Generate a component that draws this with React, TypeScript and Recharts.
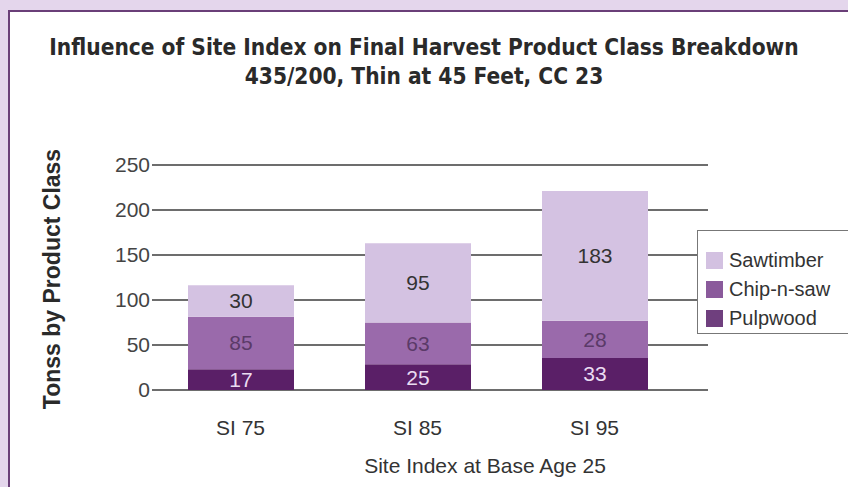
import { BarChart, Bar, XAxis, YAxis, CartesianGrid, LabelList } from 'recharts'

// segment heights as drawn in the figure (tons)
const categories = ['SI 75', 'SI 85', 'SI 95']
const pulpwood = [23, 28.5, 35.5]
const chipNSaw = [58.5, 46.5, 41.5]
const sawtimber = [35, 88, 144]

// numbers printed inside the segments
const pulpLabels = ['17', '25', '33']
const chipLabels = ['85', '63', '28']
const sawLabels = ['30', '95', '183']

const yTicks = [0, 50, 100, 150, 200, 250]

const PULP = '#5a1f67'
const CHIP = '#9a6aab'
const SAW = '#d4c2e2'

const data = categories.map((c, i) => ({
  name: c,
  pulp: pulpwood[i],
  chip: chipNSaw[i],
  saw: sawtimber[i],
  pulpLabel: pulpLabels[i],
  chipLabel: chipLabels[i],
  sawLabel: sawLabels[i],
}))

const FONT = '"Liberation Sans", Arial, sans-serif'
const labelFont = { fontSize: 21, fontFamily: FONT }

const legendItems = [
  { name: 'Sawtimber', color: '#d3c1e1' },
  { name: 'Chip-n-saw', color: '#8a5a9b' },
  { name: 'Pulpwood', color: '#6f3f7e' },
]

export default function App() {
  return (
    <div style={{ position: 'fixed', left: 0, top: 0, width: 848, height: 487, background: '#e4d6ec', overflow: 'hidden' }}>
      <div
        style={{
          position: 'absolute', left: 8, top: 10, right: 0, bottom: 0, background: '#fff',
          borderLeft: '2px solid #6a3f78', borderTop: '2px solid #6a3f78',
        }}
      />
      <div
        style={{
          position: 'absolute', left: 0, width: 848, top: 33, textAlign: 'center', fontWeight: 'bold',
          fontFamily: '"Liberation Sans Narrow", "DejaVu Sans Condensed", sans-serif', fontSize: 22.5,
          lineHeight: '29px', color: '#2a2a2a',
        }}
      >
        <div>Influence of Site Index on Final Harvest Product Class Breakdown</div>
        <div>435/200, Thin at 45 Feet, CC 23</div>
      </div>
      <div
        style={{
          position: 'absolute', left: 52, top: 279, transform: 'translate(-50%, -50%) rotate(-90deg)',
          whiteSpace: 'nowrap', fontFamily: FONT, fontWeight: 'bold', fontSize: 23, color: '#2a2a2a',
        }}
      >
        Tonss by Product Class
      </div>
      <div style={{ position: 'absolute', left: 0, top: 0 }}>
        <BarChart width={848} height={487} data={data} margin={{ top: 165, right: 140, bottom: 67, left: 92 }} barSize={106}>
          <CartesianGrid vertical={false} stroke="#3c3c3c" strokeWidth={1.3} />
          <XAxis
            dataKey="name" axisLine={false} tickLine={false} tickSize={0} tickMargin={30} height={30}
            padding={{ left: 0, right: 25 }}
            tick={{ fill: '#333', fontSize: 21, fontFamily: FONT }}
          />
          <YAxis
            domain={[0, 250]} ticks={yTicks} axisLine={false} tickLine={false} tickSize={0} tickMargin={2} width={60}
            tick={{ fill: '#444', fontSize: 21, fontFamily: FONT }}
          />
          <Bar dataKey="pulp" stackId="a" fill={PULP} isAnimationActive={false}>
            <LabelList dataKey="pulpLabel" position="center" fill="#eadcf2" style={labelFont} />
          </Bar>
          <Bar dataKey="chip" stackId="a" fill={CHIP} isAnimationActive={false}>
            <LabelList dataKey="chipLabel" position="center" fill="#5b3a68" style={labelFont} />
          </Bar>
          <Bar dataKey="saw" stackId="a" fill={SAW} isAnimationActive={false}>
            <LabelList dataKey="sawLabel" position="center" fill="#333" style={labelFont} />
          </Bar>
        </BarChart>
      </div>
      <div
        style={{
          position: 'absolute', left: 697, top: 230, width: 160, height: 104, border: '1px solid #777',
          background: '#fff', boxSizing: 'border-box', padding: '15px 0 0 8px',
        }}
      >
        {legendItems.map((it) => (
          <div key={it.name} style={{ display: 'flex', alignItems: 'center', height: 29 }}>
            <div style={{ width: 17, height: 17, background: it.color, marginRight: 6 }} />
            <span style={{ fontFamily: FONT, fontSize: 20, color: '#333' }}>{it.name}</span>
          </div>
        ))}
      </div>
      <div
        style={{
          position: 'absolute', left: 0, width: 848, top: 454, textAlign: 'center', paddingLeft: 122,
          boxSizing: 'border-box', fontFamily: FONT, fontSize: 21, color: '#333',
        }}
      >
        Site Index at Base Age 25
      </div>
    </div>
  )
}
